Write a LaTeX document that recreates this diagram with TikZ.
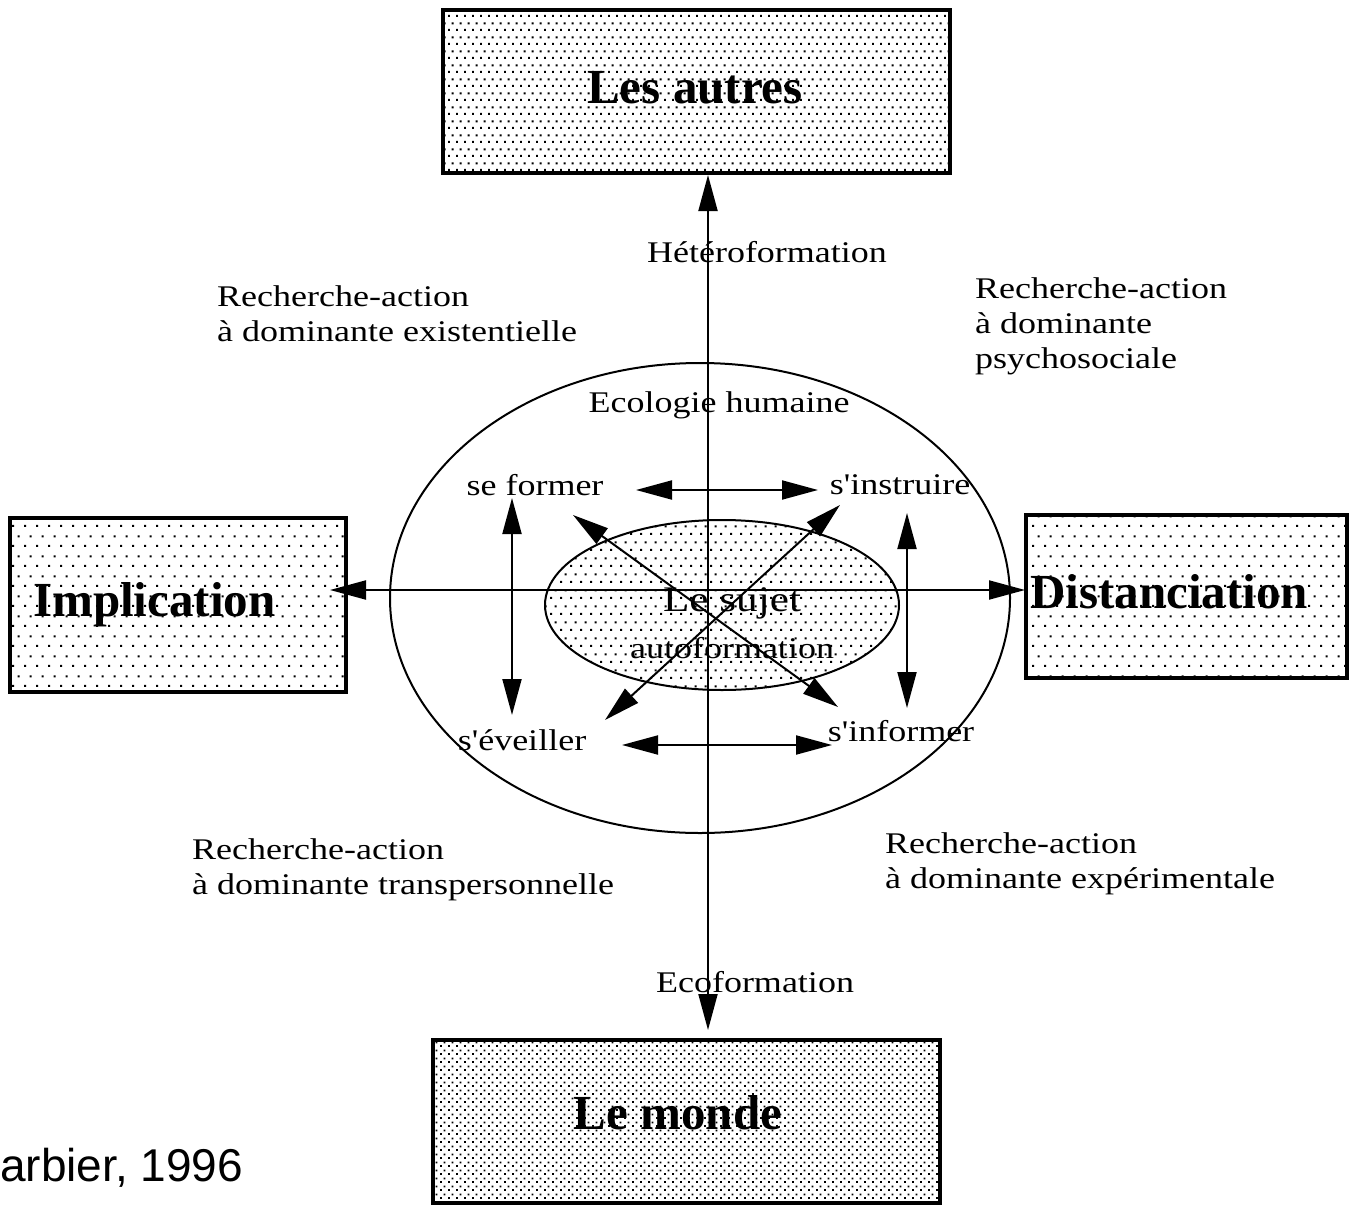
\documentclass[tikz,border=0pt]{standalone}
\usepackage{fontspec}
\setmainfont{Liberation Serif}
\newfontfamily\bmserif[FakeStretch=1.2]{Liberation Serif}
\newfontfamily\bmsans{Liberation Sans}
\usetikzlibrary{arrows.meta,patterns.meta,shapes.geometric}

\tikzdeclarepattern{
  name=dotsA, type=uncolored,
  bounding box={(0pt,0pt) and (8pt,14pt)},
  tile size={(8pt,14pt)},
  code={\pgfpathrectangle{\pgfpoint{0pt}{0pt}}{\pgfpoint{2.2pt}{2.2pt}}
        \pgfpathrectangle{\pgfpoint{4pt}{7pt}}{\pgfpoint{2.2pt}{2.2pt}}
        \pgfusepath{fill}}
}
\tikzdeclarepattern{
  name=dotsB, type=uncolored,
  bounding box={(0pt,0pt) and (12pt,20pt)},
  tile size={(12pt,20pt)},
  code={\pgfpathrectangle{\pgfpoint{0pt}{0pt}}{\pgfpoint{2.2pt}{2.2pt}}
        \pgfpathrectangle{\pgfpoint{6pt}{10pt}}{\pgfpoint{2.2pt}{2.2pt}}
        \pgfusepath{fill}}
}
\tikzdeclarepattern{
  name=dotsC, type=uncolored,
  bounding box={(0pt,0pt) and (8pt,8pt)},
  tile size={(8pt,8pt)},
  code={\pgfpathrectangle{\pgfpoint{0pt}{0pt}}{\pgfpoint{2pt}{2pt}}
        \pgfpathrectangle{\pgfpoint{4pt}{4pt}}{\pgfpoint{2pt}{2pt}}
        \pgfusepath{fill}}
}
\tikzdeclarepattern{
  name=dotsD, type=uncolored,
  bounding box={(0pt,0pt) and (10pt,16pt)},
  tile size={(10pt,16pt)},
  code={\pgfpathrectangle{\pgfpoint{0pt}{0pt}}{\pgfpoint{2.2pt}{2.2pt}}
        \pgfpathrectangle{\pgfpoint{5pt}{8pt}}{\pgfpoint{2.2pt}{2.2pt}}
        \pgfusepath{fill}}
}

\begin{document}
\begin{tikzpicture}[x=1pt,y=-1pt,
  box/.style={draw, line width=3.5pt, inner sep=0pt, rectangle},
  boxlabel/.style={font=\bfseries\fontsize{49}{54}\selectfont, inner sep=0pt},
  lab/.style={font=\bmserif\fontsize{30}{35}\selectfont, inner sep=0pt},
  mlab/.style={lab, align=left},
  tipA/.tip={Triangle[length=36pt,width=19pt]},
  axisline/.style={line width=2pt, tipA-tipA},
  inarrow/.style={line width=2pt, tipA-tipA},
  ellline/.style={draw, line width=2pt, inner sep=0pt}
]
\useasboundingbox (0,0) rectangle (1349,1207);
\fill[white] (0,0) rectangle (1349,1207);

% boxes
\node[box, pattern=dotsA, minimum width=507, minimum height=163] (autres) at (696.5,91.5) {};
\node[box, pattern=dotsB, minimum width=336, minimum height=174] (impl) at (178,605) {};
\node[box, pattern=dotsB, minimum width=321, minimum height=163] (dist) at (1186.5,596.5) {};
\node[box, pattern=dotsC, minimum width=507, minimum height=163] (monde) at (686.5,1121.5) {};

\node[boxlabel] (tautres) at (695,88) {Les autres};
\node[boxlabel, anchor=west] (timpl) at (33,605) {Implication};
\node[boxlabel, anchor=west] (tdist) at (1030,592) {Distanciation};
\node[boxlabel] (tmonde) at (678,1113) {Le monde};

% ellipses
\node[ellipse, ellline, minimum width=620, minimum height=470] (outer) at (700,598) {};
\node[ellipse, ellline, pattern=dotsD, minimum width=354, minimum height=170] (inner) at (722,605) {};

% axes
\coordinate (vtop) at (708,175);
\coordinate (vbot) at (708,1030);
\coordinate (hleft) at (330,590);
\coordinate (hright) at (1025,590);
\draw[axisline] (vtop) -- (vbot);
\draw[axisline] (hleft) -- (hright);

% inner arrows
\coordinate (hA) at (636,490);
\coordinate (hB) at (818,490);
\coordinate (hC) at (622,745);
\coordinate (hD) at (832,745);
\coordinate (vA) at (512,498);
\coordinate (vB) at (512,715);
\coordinate (vC) at (907,513);
\coordinate (vD) at (907,708);
\coordinate (dA) at (573,515);
\coordinate (dB) at (838,707);
\coordinate (dC) at (840,505);
\coordinate (dD) at (605,720);
\draw[inarrow] (hA) -- (hB);
\draw[inarrow] (hC) -- (hD);
\draw[inarrow] (vA) -- (vB);
\draw[inarrow] (vC) -- (vD);
\draw[inarrow] (dA) -- (dB);
\draw[inarrow] (dC) -- (dD);

% labels
\node[lab] (hetero) at (767,252) {Hétéroformation};
\node[mlab, anchor=west] (raexist) at (217,314) {Recherche-action\\à dominante existentielle};
\node[mlab, anchor=west] (rapsycho) at (975,326) {Recherche-action\\à dominante\\psychosociale};
\node[lab] (ecohum) at (719,405) {Ecologie humaine};
\node[lab] (seformer) at (535,485) {se former};
\node[lab] (sinstruire) at (900,485) {s'instruire};
\node[lab, font=\bmserif\fontsize{36}{40}\selectfont] (sujet) at (732,603) {Le sujet};
\node[lab] (autof) at (732,648) {autoformation};
\node[lab] (seveiller) at (522,740) {s'éveiller};
\node[lab] (sinformer) at (901,731) {s'informer};
\node[mlab, anchor=west] (ratrans) at (192,870) {Recherche-action\\à dominante transpersonnelle};
\node[mlab, anchor=west] (raexp) at (885,864) {Recherche-action\\à dominante expérimentale};
\node[lab] (ecoform) at (755,982) {Ecoformation};
\node[font=\bmsans\fontsize{46}{50}\selectfont, inner sep=0pt, anchor=west] (barbier) at (0,1168) {arbier, 1996};
\end{tikzpicture}
\end{document}
